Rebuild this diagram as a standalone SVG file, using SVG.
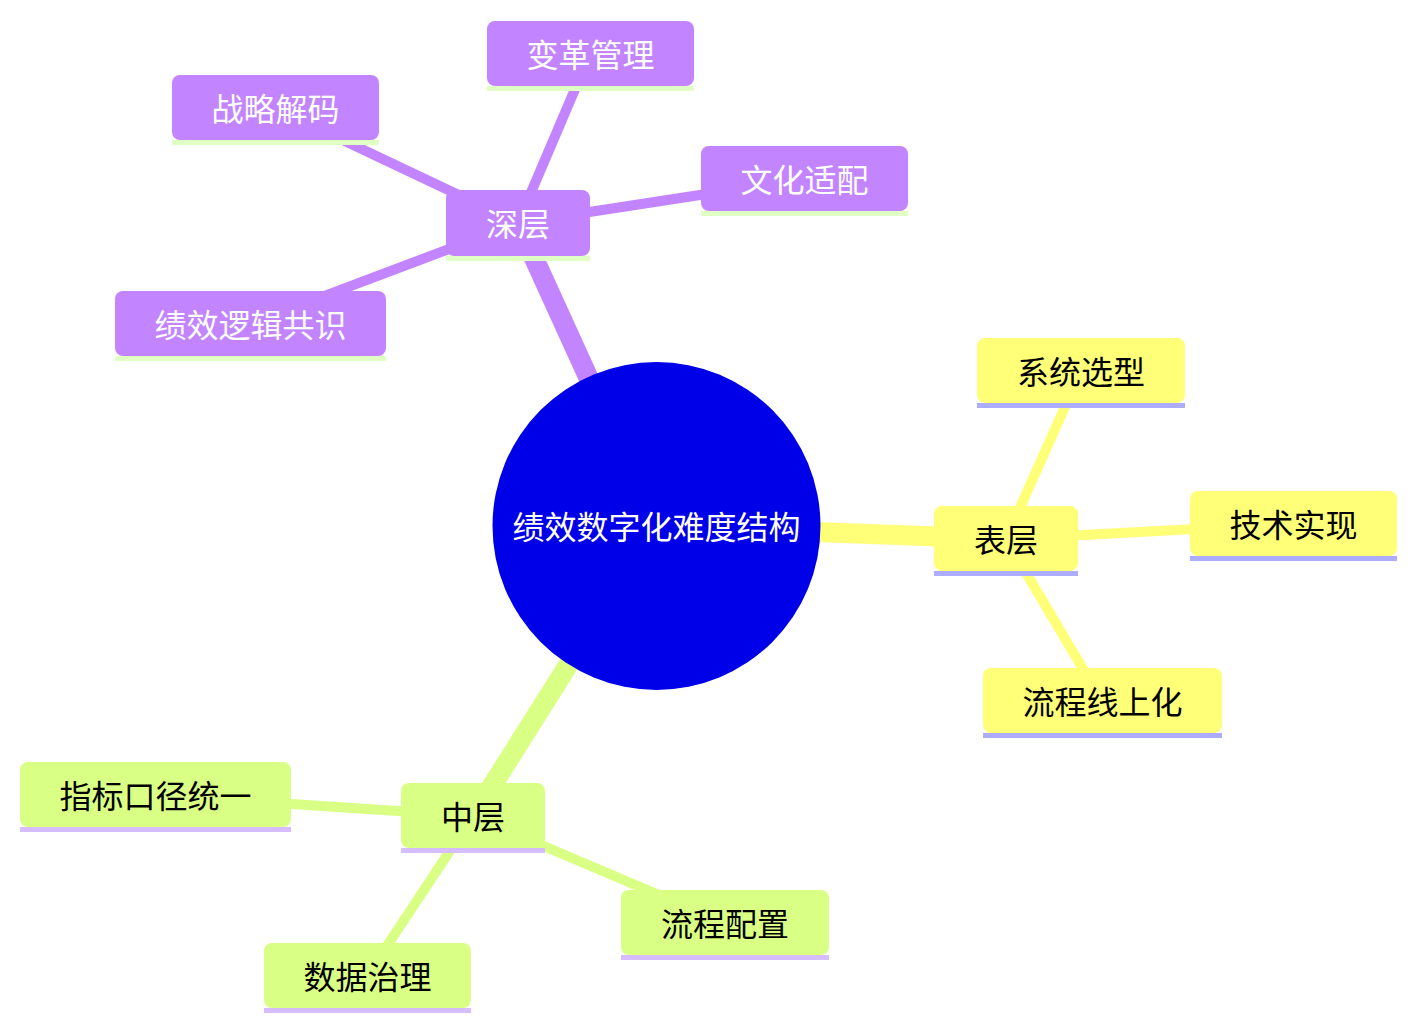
<svg xmlns="http://www.w3.org/2000/svg" width="1417" height="1030" viewBox="0 0 1417 1030">
<style>
text{font-family:"Noto Sans CJK SC","Noto Sans",sans-serif;font-size:32px;text-anchor:middle;dominant-baseline:central}
.p rect.b{fill:#c285ff}.p rect.l{fill:#dfffc4}.p text{fill:#ffffff}
.y rect.b{fill:#ffff78}.y rect.l{fill:#adadff}.y text{fill:#000000}
.g rect.b{fill:#d9ff85}.g rect.l{fill:#d5bdff}.g text{fill:#000000}
.e0{stroke-width:20;fill:none;stroke-linecap:butt}
.e1{stroke-width:10;fill:none;stroke-linecap:butt}
.ep{stroke:#c285ff}.ey{stroke:#ffff78}.eg{stroke:#d9ff85}
</style>
<rect width="1417" height="1030" fill="#ffffff"/>
<g id="connectors">
<line class="e0 ep" x1="656" y1="526" x2="518" y2="223"/>
<line class="e0 ey" x1="656" y1="526" x2="1006" y2="539"/>
<line class="e0 eg" x1="656" y1="526" x2="473" y2="816"/>
<line class="e1 ep" x1="518" y1="223" x2="590" y2="54"/>
<line class="e1 ep" x1="518" y1="223" x2="275" y2="108"/>
<line class="e1 ep" x1="518" y1="223" x2="804" y2="179"/>
<line class="e1 ep" x1="518" y1="223" x2="250" y2="324"/>
<line class="e1 ey" x1="1006" y1="539" x2="1081" y2="371"/>
<line class="e1 ey" x1="1006" y1="539" x2="1293" y2="524"/>
<line class="e1 ey" x1="1006" y1="539" x2="1102" y2="701"/>
<line class="e1 eg" x1="473" y1="816" x2="155" y2="795"/>
<line class="e1 eg" x1="473" y1="816" x2="725" y2="923"/>
<line class="e1 eg" x1="473" y1="816" x2="367" y2="976"/>
</g>
<g id="root">
<circle cx="656.5" cy="526" r="164" fill="#0000e8"/>
<text x="656.5" y="525" fill="#ffffff">绩效数字化难度结构</text>
</g>
<g id="n-shenceng" class="p"><rect class="b" x="446" y="190" width="144" height="66" rx="8"/><rect class="l" x="446" y="256" width="144" height="5"/><text x="518" y="222">深层</text></g>
<g id="n-biange" class="p"><rect class="b" x="487" y="21" width="207" height="65" rx="8"/><rect class="l" x="487" y="86" width="207" height="5"/><text x="590.5" y="52.5">变革管理</text></g>
<g id="n-zhanlue" class="p"><rect class="b" x="172" y="75" width="207" height="65" rx="8"/><rect class="l" x="172" y="140" width="207" height="5"/><text x="275.5" y="106.5">战略解码</text></g>
<g id="n-wenhua" class="p"><rect class="b" x="701" y="146" width="207" height="65" rx="8"/><rect class="l" x="701" y="211" width="207" height="5"/><text x="804.5" y="177.5">文化适配</text></g>
<g id="n-gongshi" class="p"><rect class="b" x="115" y="291" width="271" height="65" rx="8"/><rect class="l" x="115" y="356" width="271" height="5"/><text x="250.5" y="322.5">绩效逻辑共识</text></g>
<g id="n-biaoceng" class="y"><rect class="b" x="934" y="506" width="144" height="65" rx="8"/><rect class="l" x="934" y="571" width="144" height="5"/><text x="1006" y="537.5">表层</text></g>
<g id="n-xuanxing" class="y"><rect class="b" x="977" y="338" width="208" height="65" rx="8"/><rect class="l" x="977" y="403" width="208" height="5"/><text x="1081" y="369.5">系统选型</text></g>
<g id="n-jishu" class="y"><rect class="b" x="1190" y="491" width="207" height="65" rx="8"/><rect class="l" x="1190" y="556" width="207" height="5"/><text x="1293.5" y="522.5">技术实现</text></g>
<g id="n-xianshang" class="y"><rect class="b" x="983" y="668" width="239" height="65" rx="8"/><rect class="l" x="983" y="733" width="239" height="5"/><text x="1102.5" y="699.5">流程线上化</text></g>
<g id="n-zhongceng" class="g"><rect class="b" x="401" y="783" width="144" height="65" rx="8"/><rect class="l" x="401" y="848" width="144" height="5"/><text x="473" y="814.5">中层</text></g>
<g id="n-zhibiao" class="g"><rect class="b" x="20" y="762" width="271" height="65" rx="8"/><rect class="l" x="20" y="827" width="271" height="5"/><text x="155.5" y="793.5">指标口径统一</text></g>
<g id="n-peizhi" class="g"><rect class="b" x="621" y="890" width="208" height="65" rx="8"/><rect class="l" x="621" y="955" width="208" height="5"/><text x="725" y="921.5">流程配置</text></g>
<g id="n-shuju" class="g"><rect class="b" x="264" y="943" width="207" height="65" rx="8"/><rect class="l" x="264" y="1008" width="207" height="5"/><text x="367.5" y="974.5">数据治理</text></g>
</svg>
